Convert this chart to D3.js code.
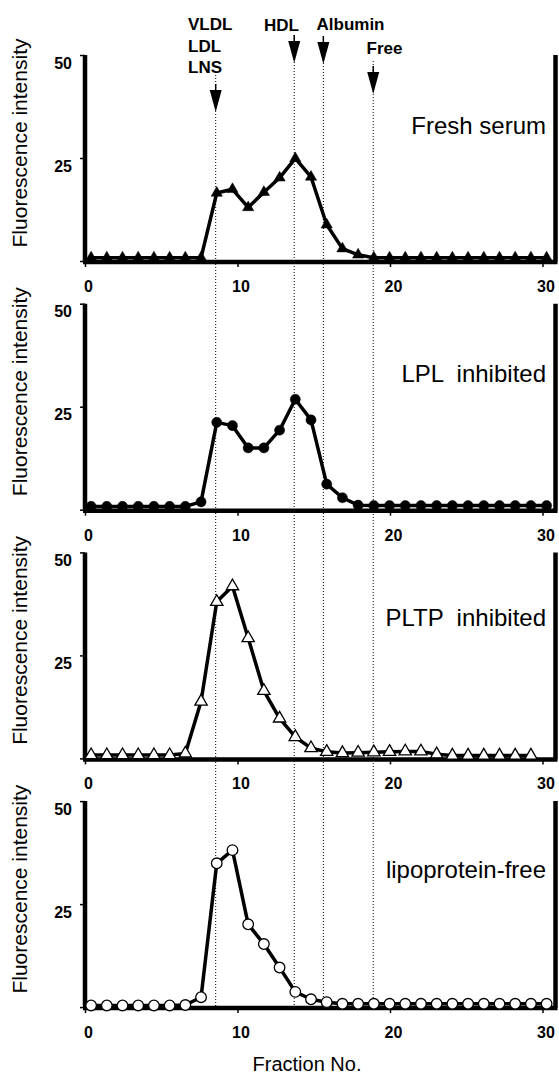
<!DOCTYPE html>
<html>
<head>
<meta charset="utf-8">
<script src="https://cdn.jsdelivr.net/npm/d3@7"></script>
<style>
  body { margin: 0; background: #fff; }
  svg { display: block; }
  text { font-family: "Liberation Sans", Arial, Helvetica, sans-serif; fill: #000; }
</style>
</head>
<body>
<svg></svg>
<script>
// fraction numbers collected from the column
let fractionNo = [1, 2, 3, 4, 5, 6, 7, 8, 9, 10, 11, 12, 13, 14, 15,
  16, 17, 18, 19, 20, 21, 22, 23, 24, 25, 26, 27, 28, 29, 30]

// fluorescence per fraction, one array per panel
let freshSerum = [0.8, 0.8, 0.8, 0.8, 0.8, 0.8, 0.8, 0.8, 16.5, 17.4,
  13.0, 16.7, 20.2, 24.9, 20.4, 8.8, 3.0, 1.5, 0.8, 0.8,
  0.8, 0.8, 0.8, 0.8, 0.8, 0.8, 0.8, 0.8, 0.8, 0.8]
let lplInhibited = [0.8, 0.8, 0.8, 0.8, 0.8, 0.8, 0.8, 1.9, 21.2, 20.4,
  15.0, 15.0, 19.3, 26.8, 21.8, 6.2, 2.9, 1.1, 1.0, 1.0,
  1.0, 1.0, 1.0, 1.0, 1.0, 1.0, 1.0, 1.0, 1.0, 1.0]
let pltpInhibited = [0.8, 0.8, 0.8, 0.8, 0.8, 0.8, 1.2, 13.8, 38.0, 41.8,
  29.2, 16.4, 9.7, 5.2, 2.5, 1.6, 1.3, 1.4, 1.5, 1.6,
  1.7, 1.7, 1.0, 0.7, 0.7, 0.7, 0.7, 0.7, 0.7]
let lipoproteinFree = [0.4, 0.4, 0.4, 0.4, 0.4, 0.4, 0.5, 2.4, 34.9, 38.1,
  20.1, 15.3, 9.6, 3.7, 1.9, 1.2, 0.8, 0.8, 0.8, 0.8,
  0.8, 0.8, 0.8, 0.8, 0.8, 0.8, 0.8, 0.8, 0.8, 0.8]

let panelNames = ['Fresh serum', 'LPL  inhibited', 'PLTP  inhibited', 'lipoprotein-free']
let xTicks = [0, 10, 20, 30]
let yTicks = [0, 25, 50]

// elution positions of the reference peaks (on the Fraction No. axis)
let peakLabels = [['VLDL', 'LDL', 'LNS'], ['HDL'], ['Albumin'], ['Free']]
let peakFractions = [8.57, 13.72, 15.63, 18.9]

function drawChart () {
  let svgWidth = 559
  let svgHeight = 1077
  let svg = d3.select('svg')
    .attr('width', svgWidth)
    .attr('height', svgHeight)

  let x = d3.scaleLinear()
    .domain([0, 30])
    .range([85, 542.5])

  // the plotted points do not sit exactly on the printed tick spacing
  let xFrac = d3.scaleLinear()
    .domain([1, 30])
    .range([x(0.4), x(30.27)])

  let panelTop = 55
  let panelHeight = 206
  let panelStep = 248.7
  let rightEdge = 555.5
  let nameOffsets = [79, 78, 74, 77]

  let panels = [
    { values: freshSerum, shape: d3.symbolTriangle, size: 55, fill: '#000' },
    { values: lplInhibited, shape: d3.symbolCircle, size: 80, fill: '#000' },
    { values: pltpInhibited, shape: d3.symbolTriangle, size: 66, fill: '#fff' },
    { values: lipoproteinFree, shape: d3.symbolCircle, size: 88, fill: '#fff' }
  ]

  let lastBottom = panelTop + 3 * panelStep + panelHeight

  // dotted guide lines and arrows for the peak positions
  let arrowLayout = [
    { dotTop: 75, stemTop: 84, tip: 112 },
    { dotTop: 35, stemTop: 35, tip: 63 },
    { dotTop: 36, stemTop: 36, tip: 64 },
    { dotTop: 61, stemTop: 66, tip: 94 }
  ]
  let labelLayout = [
    { x: 188, y: 30 },
    { x: 264, y: 31 },
    { x: 316.5, y: 30 },
    { x: 366.5, y: 54 }
  ]

  let guides = svg.append('g')
  peakFractions.forEach((f, k) => {
    let cx = x(f)
    let a = arrowLayout[k]
    guides.append('line')
      .attr('x1', cx).attr('x2', cx)
      .attr('y1', a.dotTop).attr('y2', lastBottom)
      .attr('stroke', '#000')
      .attr('stroke-width', 1)
      .attr('stroke-dasharray', '1,2')
    let headTop = a.tip - 22
    guides.append('line')
      .attr('x1', cx).attr('x2', cx)
      .attr('y1', a.stemTop).attr('y2', headTop)
      .attr('stroke', '#000')
      .attr('stroke-width', 1.5)
    guides.append('path')
      .attr('d', `M${cx - 6},${headTop}L${cx + 6},${headTop}L${cx},${a.tip}Z`)
      .attr('fill', '#000')
    peakLabels[k].forEach((t, j) => {
      guides.append('text')
        .attr('x', labelLayout[k].x)
        .attr('y', labelLayout[k].y + j * 21.5)
        .attr('font-size', 17)
        .attr('font-weight', 'bold')
        .text(t)
    })
  })

  panels.forEach((p, i) => {
    let top = panelTop + i * panelStep
    let bottom = top + panelHeight
    let y = d3.scaleLinear()
      .domain([0, 50])
      .range([bottom, top])

    let g = svg.append('g')

    // y axis ticks and labels
    let yAxis = g.append('g')
      .attr('transform', `translate(${x(0)},0)`)
      .call(d3.axisLeft(y)
        .tickValues(yTicks)
        .tickSize(5)
        .tickFormat((d) => d === 0 ? '' : d))
    yAxis.select('.domain').remove()
    yAxis.attr('font-size', 16)
      .attr('font-weight', 'bold')
      .attr('font-family', null)
    yAxis.selectAll('line').attr('stroke-width', 1.5)
    yAxis.selectAll('text')
      .attr('x', -13)
      .attr('y', 13)
      .attr('dy', 0)

    // x axis ticks and labels
    let xAxis = g.append('g')
      .attr('transform', `translate(0,${bottom})`)
      .call(d3.axisBottom(x)
        .tickValues(xTicks)
        .tickSize(6))
    xAxis.select('.domain').remove()
    xAxis.attr('font-size', 16)
      .attr('font-weight', 'bold')
      .attr('font-family', null)
    xAxis.selectAll('line').attr('stroke-width', 1.5)
    xAxis.selectAll('text')
      .attr('y', 31)
      .attr('dy', 0)
      .attr('dx', 3)

    // heavy frame: left, right and bottom
    g.append('path')
      .attr('d', `M${x(0)},${top}V${bottom + 1}M${rightEdge},${top}V${bottom + 1}M${x(0) - 2},${bottom + 1}H${rightEdge + 2}`)
      .attr('fill', 'none')
      .attr('stroke', '#000')
      .attr('stroke-width', 4.5)

    let line = d3.line()
      .x((d, j) => xFrac(fractionNo[j]))
      .y((d) => y(d))

    g.append('path')
      .datum(p.values)
      .attr('d', line)
      .attr('fill', 'none')
      .attr('stroke', '#000')
      .attr('stroke-width', 3.5)
      .attr('stroke-linejoin', 'round')

    g.selectAll('.mark')
      .data(p.values)
      .join('path')
      .attr('class', 'mark')
      .attr('transform', (d, j) => `translate(${xFrac(fractionNo[j])},${y(d)})`)
      .attr('d', d3.symbol().type(p.shape).size(p.size))
      .attr('fill', p.fill)
      .attr('stroke', '#000')
      .attr('stroke-width', p.fill === '#000' ? 0.5 : 1.3)

    g.append('text')
      .attr('x', 546)
      .attr('y', top + nameOffsets[i])
      .attr('text-anchor', 'end')
      .attr('font-size', 24)
      .style('white-space', 'pre')
      .text(panelNames[i])

    g.append('text')
      .attr('transform', `translate(27,${(top + bottom) / 2 - 15}) rotate(-90)`)
      .attr('text-anchor', 'middle')
      .attr('font-size', 21)
      .text('Fluorescence intensity')
  })

  svg.append('text')
    .attr('x', 307)
    .attr('y', 1071)
    .attr('text-anchor', 'middle')
    .attr('font-size', 20)
    .text('Fraction No.')
}

drawChart()
</script>
</body>
</html>
